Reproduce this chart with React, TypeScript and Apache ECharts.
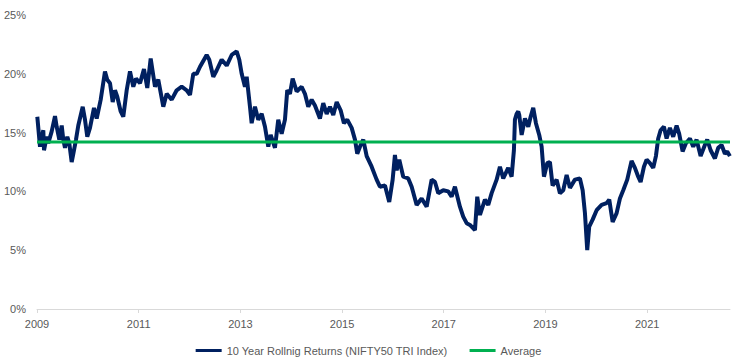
import React, { useEffect, useRef } from "react";
import * as echarts from "echarts";

const BASE_YEAR = 2009;
const X_MAX = 13.63;

// years elapsed since Jan 2009
const yearOffsets = [
  0.006, 0.059, 0.124, 0.138, 0.191, 0.222, 0.289, 0.354, 0.387, 0.439, 0.486, 0.517, 0.551, 0.596, 0.635, 0.682, 0.714, 0.767, 0.812, 0.899,
  0.944, 0.989, 1.042, 1.121, 1.174, 1.253, 1.337, 1.382, 1.436, 1.489, 1.534, 1.579, 1.646, 1.697, 1.764, 1.829, 1.894, 1.947, 2.026, 2.104,
  2.169, 2.236, 2.321, 2.385, 2.484, 2.551, 2.649, 2.747, 2.846, 2.944, 3.009, 3.074, 3.141, 3.206, 3.284, 3.337, 3.388, 3.467, 3.534, 3.632,
  3.731, 3.829, 3.927, 3.978, 4.026, 4.090, 4.124, 4.189, 4.222, 4.287, 4.352, 4.419, 4.484, 4.549, 4.596, 4.680, 4.745, 4.812, 4.877, 4.922,
  4.975, 5.028, 5.107, 5.205, 5.270, 5.335, 5.402, 5.467, 5.565, 5.630, 5.697, 5.762, 5.827, 5.894, 5.972, 6.037, 6.102, 6.189, 6.254, 6.299,
  6.352, 6.417, 6.484, 6.582, 6.680, 6.745, 6.844, 6.928, 6.995, 7.040, 7.074, 7.125, 7.203, 7.302, 7.369, 7.467, 7.565, 7.664, 7.762, 7.827,
  7.892, 7.990, 8.088, 8.155, 8.220, 8.318, 8.383, 8.450, 8.515, 8.614, 8.659, 8.712, 8.810, 8.875, 8.942, 9.040, 9.105, 9.170, 9.268, 9.335,
  9.380, 9.400, 9.434, 9.465, 9.485, 9.532, 9.597, 9.662, 9.709, 9.760, 9.813, 9.878, 9.925, 9.971, 10.035, 10.088, 10.141, 10.220, 10.285, 10.350,
  10.417, 10.482, 10.580, 10.678, 10.732, 10.777, 10.822, 10.861, 10.928, 11.007, 11.105, 11.203, 11.255, 11.322, 11.400, 11.465, 11.530, 11.609, 11.694, 11.760,
  11.825, 11.872, 11.937, 11.990, 12.055, 12.120, 12.173, 12.218, 12.265, 12.330, 12.383, 12.448, 12.513, 12.580, 12.631, 12.698, 12.763, 12.842, 12.907, 12.973,
  13.052, 13.136, 13.182, 13.249, 13.333, 13.398, 13.465, 13.530, 13.575, 13.628,
];

// 10-year rolling returns, %
const rollingReturns = [
  16.35, 13.8, 15.2, 13.5, 14.65, 14.1, 15.1, 16.4, 15.5, 14.4, 15.6, 14.4, 13.7, 14.65, 14.1, 12.5, 13.2, 14.4, 15.6, 17.2,
  16.1, 14.65, 15.4, 17.1, 16.2, 17.8, 20.2, 19.5, 19.2, 17.6, 18.6, 18.05, 16.8, 16.35, 18.6, 20.2, 18.9, 19.6, 19.2, 20.4,
  18.8, 21.3, 18.9, 19.5, 17.2, 18.3, 17.8, 18.6, 18.9, 18.6, 18.2, 20.0, 20.0, 20.6, 21.2, 21.6, 21.2, 19.75, 20.3, 21.2,
  20.7, 21.6, 21.9, 21.2, 20.0, 18.9, 19.75, 17.2, 15.8, 17.2, 16.1, 16.6, 15.5, 13.8, 14.8, 13.7, 16.1, 14.9, 16.1, 18.6,
  18.3, 19.6, 18.5, 18.9, 18.3, 17.2, 17.8, 17.3, 16.2, 17.5, 16.6, 17.2, 16.5, 17.6, 16.9, 15.8, 16.1, 15.4, 14.4, 13.2,
  13.8, 14.4, 13.0, 12.1, 11.0, 10.4, 10.5, 9.1, 11.0, 13.1, 11.8, 12.7, 11.25, 11.1, 10.4, 8.85, 9.4, 8.7, 11.0, 10.8,
  9.85, 10.1, 10.0, 9.55, 10.4, 8.7, 7.85, 7.3, 7.15, 6.7, 9.55, 8.0, 9.3, 8.85, 9.85, 11.0, 12.1, 11.1, 12.0, 11.25,
  13.5, 16.1, 16.6, 16.8, 16.5, 14.8, 16.2, 15.5, 16.35, 17.1, 15.8, 14.8, 13.8, 11.25, 12.4, 12.5, 10.5, 11.0, 9.85, 10.1,
  11.4, 10.3, 11.0, 11.1, 10.1, 8.15, 5.0, 7.0, 7.6, 8.4, 8.85, 9.0, 9.3, 7.4, 8.15, 9.4, 10.1, 11.0, 12.6, 12.0,
  11.25, 10.8, 12.1, 12.7, 12.4, 12.0, 13.0, 14.5, 15.2, 15.5, 14.5, 15.4, 14.65, 15.6, 14.9, 13.4, 14.1, 14.5, 13.8, 14.4,
  13.0, 13.95, 14.4, 13.5, 12.8, 13.7, 13.95, 13.2, 13.4, 13.0,
];

const AVERAGE = 14.2;
const yTicks = [0, 5, 10, 15, 20, 25];
const xTickOffsets = [0, 2, 4, 6, 8, 10, 12];

const SERIES_NAME = "10 Year Rollnig Returns (NIFTY50 TRI Index)";
const AVG_NAME = "Average";

export default function App() {
  const ref = useRef<HTMLDivElement>(null);

  useEffect(() => {
    if (!ref.current) return;
    const chart = echarts.init(ref.current, null, { renderer: "svg" });
    const font = "'Liberation Sans', Arial, sans-serif";
    const lineData = yearOffsets.map((x, i) => [x, rollingReturns[i]]);
    const avgData = [
      [0, AVERAGE],
      [X_MAX, AVERAGE],
    ];
    chart.setOption({
      animation: false,
      textStyle: { fontFamily: font },
      grid: { left: 37, right: 7, top: 15, bottom: 54, containLabel: false },
      xAxis: {
        type: "value",
        min: 0,
        max: X_MAX,
        interval: 2,
        axisLine: { show: true, lineStyle: { color: "#D9D9D9", width: 1 } },
        axisTick: { show: true, length: 4, lineStyle: { color: "#D9D9D9" }, customValues: xTickOffsets },
        axisLabel: {
          color: "#595959",
          fontSize: 11,
          fontFamily: font,
          margin: 9,
          customValues: xTickOffsets,
          formatter: (v: number) => String(BASE_YEAR + Math.round(v)),
        },
        splitLine: { show: false },
      },
      yAxis: {
        type: "value",
        min: yTicks[0],
        max: yTicks[yTicks.length - 1],
        interval: 5,
        axisLine: { show: false },
        axisTick: { show: false },
        axisLabel: { color: "#595959", fontSize: 11, fontFamily: font, margin: 11, formatter: "{value}%" },
        splitLine: { show: false },
      },
      legend: {
        bottom: 2,
        left: "center",
        icon: "rect",
        itemWidth: 26,
        itemHeight: 3,
        itemGap: 22,
        textStyle: { color: "#595959", fontSize: 11, fontFamily: font },
        data: [SERIES_NAME, AVG_NAME],
      },
      series: [
        {
          name: SERIES_NAME,
          type: "line",
          data: lineData,
          symbol: "none",
          lineStyle: { color: "#002060", width: 4 },
          itemStyle: { color: "#002060" },
          z: 2,
        },
        {
          name: AVG_NAME,
          type: "line",
          data: avgData,
          symbol: "none",
          lineStyle: { color: "#00B050", width: 3 },
          itemStyle: { color: "#00B050" },
          z: 3,
        },
      ],
    });
    return () => chart.dispose();
  }, []);

  return <div ref={ref} style={{ position: "absolute", left: 0, top: 0, width: 737, height: 363 }} />;
}
